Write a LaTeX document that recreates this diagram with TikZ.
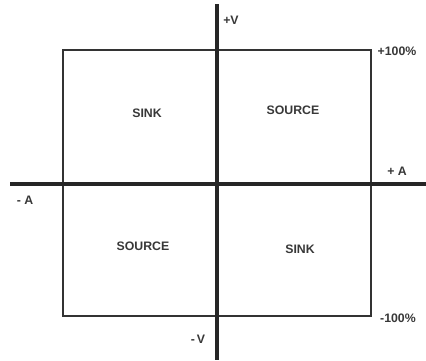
\documentclass[tikz,border=0pt]{standalone}
\usepackage{fontspec}
\setmainfont{Liberation Sans}
\begin{document}
\begin{tikzpicture}[x=1pt,y=-1pt,
  axis/.style={line width=3.6pt,draw=black!85},
  frame/.style={line width=2pt,draw=black!80},
  lbl/.style={text=black!78,font=\bfseries\fontsize{12.3}{13}\selectfont,inner sep=0pt}]
\useasboundingbox (0,0) rectangle (426,360);
% coordinates of the axes and the limit box
\coordinate (vtop) at (217,4);
\coordinate (vbot) at (217,360);
\coordinate (hleft) at (10,184);
\coordinate (hright) at (426,184);
\coordinate (boxnw) at (63,50);
\coordinate (boxse) at (371,316);
% limit box
\draw[frame] (boxnw) rectangle (boxse);
% axes
\draw[axis] (hleft) -- (hright);
\draw[axis] (vtop) -- (vbot);
% axis labels
\node[lbl] (pv) at (231,20) {+V};
\node[lbl] (mv) at (198,339) {-\,V};
\node[lbl] (pa) at (397,171) {+ A};
\node[lbl] (ma) at (25,200) {- A};
\node[lbl] (pp) at (397,51) {+100\%};
\node[lbl] (mp) at (398,318) {-100\%};
% quadrants
\node[lbl] (q2) at (147,113) {SINK};
\node[lbl] (q1) at (293,110) {SOURCE};
\node[lbl] (q3) at (143,246) {SOURCE};
\node[lbl] (q4) at (300,249) {SINK};
\end{tikzpicture}
\end{document}
